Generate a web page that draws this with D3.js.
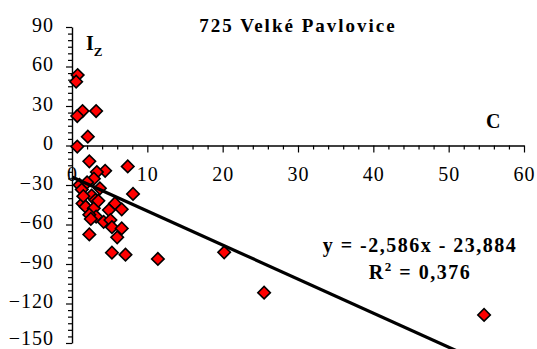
<!DOCTYPE html>
<html>
<head>
<meta charset="utf-8">
<script src="https://cdn.jsdelivr.net/npm/d3@7/dist/d3.min.js"></script>
<style>
  html, body { margin: 0; padding: 0; background: #fff; }
  svg { display: block; }
  text { font-family: "Liberation Serif", "Times New Roman", serif; fill: #000; }
</style>
</head>
<body>
<script>
// ---- data ----
const title = "725 Velké Pavlovice";
const cValues = [0.75, 0.55, 1.4, 0.7, 3.2, 2.1, 0.7, 2.3, 4.4, 7.4, 3.3, 2.9, 1.0, 1.3, 3.7, 2.6, 8.1, 1.4, 1.8, 3.1,
                 2.9, 5.7, 6.6, 4.9, 3.2, 4.2, 5.1, 5.3, 6.6, 2.3, 6.0, 5.3, 7.1, 11.4, 20.2, 25.5, 54.7,
                 1.5, 3.5, 2.3, 2.5, 2.0];
const izValues = [53.5, 48.5, 26.2, 22.4, 26.2, 6.7, -0.8, -12, -19.2, -15.9, -20.2, -25.2, -30, -33.5, -32.5, -38, -36.8, -44, -46.5, -41.4,
                  -47.7, -44, -48.5, -49, -54, -58, -56.6, -62, -63, -67.5, -69.7, -81.4, -82.9, -86.2, -81.1, -111.8, -128.7,
                  -38.5, -42, -52.5, -55.8, -28];
const xTicks = [0, 10, 20, 30, 40, 50, 60];
const yTicks = [-150, -120, -90, -60, -30, 0, 30, 60, 90];
const trendCoef = [-2.586, -23.884]; // slope, intercept
const equationText = "y = -2,586x - 23,884";
const r2Value = "0,376";

const points = cValues.map((c, i) => ({ c: c, iz: izValues[i] }));

// ---- layout ----
const W = 537, H = 349;
const FONT = '"Liberation Serif", "Times New Roman", serif';
const svg = d3.select("body").append("svg").attr("width", W).attr("height", H);

const x = d3.scaleLinear().domain([0, 60]).range([72, 524]);
const y = d3.scaleLinear().domain([-150, 90]).range([343, 27]);

const fontSize = 20;

// clip for plot area
svg.append("defs").append("clipPath").attr("id", "plotClip")
  .append("rect").attr("x", 60).attr("y", 20).attr("width", 470).attr("height", H - 20);

// Y axis minor ticks
const yMinor = d3.range(-150, 91, 5).filter(v => v % 30 !== 0);
svg.append("g").attr("transform", `translate(${x(0)},0)`)
  .call(d3.axisLeft(y).tickValues(yMinor).tickSize(4).tickFormat(""))
  .call(g => g.select(".domain").remove())
  .call(g => g.selectAll("line").attr("stroke", "#000").attr("stroke-width", 1.2));

// Y axis major
const yAxisG = svg.append("g").attr("transform", `translate(${x(0)},0)`)
  .attr("font-family", FONT)
  .call(d3.axisLeft(y).tickValues(yTicks).tickSize(6).tickSizeOuter(0).tickPadding(12));
yAxisG.select(".domain").attr("stroke", "#000").attr("stroke-width", 1.4);
yAxisG.selectAll("line").attr("stroke", "#000").attr("stroke-width", 1.2);
yAxisG.selectAll("text")
  .attr("dy", d => d === yTicks[0] ? "0.07em" : "0.22em")
  .style("font-family", FONT)
  .style("font-size", fontSize + "px")
  .style("letter-spacing", "1px")
  .attr("fill", "#000");

// X axis minor ticks
const xMinor = d3.range(0, 61, 2).filter(v => v % 10 !== 0);
svg.append("g").attr("transform", `translate(0,${y(0)})`)
  .call(d3.axisBottom(x).tickValues(xMinor).tickSize(4).tickFormat(""))
  .call(g => g.select(".domain").remove())
  .call(g => g.selectAll("line").attr("stroke", "#000").attr("stroke-width", 1.2));

// X axis major
const xAxisG = svg.append("g").attr("transform", `translate(0,${y(0)})`)
  .attr("font-family", FONT)
  .call(d3.axisBottom(x).tickValues(xTicks).tickSize(7).tickSizeOuter(0).tickPadding(14));
xAxisG.select(".domain").attr("stroke", "#000").attr("stroke-width", 1.4);
xAxisG.selectAll("line").attr("stroke", "#000").attr("stroke-width", 1.2);
xAxisG.selectAll("text")
  .style("font-family", FONT)
  .style("font-size", fontSize + "px")
  .style("letter-spacing", "1px")
  .attr("fill", "#000");

// markers
const diamond = d3.symbol().type(d3.symbolSquare).size(78);
svg.append("g").selectAll("path").data(points).join("path")
  .attr("d", diamond)
  .attr("transform", d => `translate(${x(d.c)},${y(d.iz)}) rotate(45)`)
  .attr("fill", "#ff0000")
  .attr("stroke", "#000")
  .attr("stroke-width", 1.6);

// trendline
const xExt = [0, 55];
const trendPts = xExt.map(v => ({ c: v, iz: trendCoef[0] * v + trendCoef[1] }));
svg.append("path")
  .datum(trendPts)
  .attr("clip-path", "url(#plotClip)")
  .attr("d", d3.line().x(d => x(d.c)).y(d => y(d.iz)))
  .attr("fill", "none")
  .attr("stroke", "#000")
  .attr("stroke-width", 3.2);

// title
svg.append("text")
  .attr("x", 298).attr("y", 31.5)
  .attr("text-anchor", "middle")
  .style("font-size", "19px").style("font-weight", "bold").style("letter-spacing", "2px")
  .text(title);

// axis name labels
const iz = svg.append("text").attr("x", 86).attr("y", 50)
  .style("font-size", "20px").style("font-weight", "bold");
iz.append("tspan").text("I");
iz.append("tspan").attr("dy", 6).style("font-size", "13px").text("Z");

svg.append("text").attr("x", 486).attr("y", 128)
  .style("font-size", "20px").style("font-weight", "bold")
  .text("C");

// equation
svg.append("text").attr("x", 420).attr("y", 252)
  .attr("text-anchor", "middle")
  .style("font-size", "20px").style("font-weight", "bold").style("letter-spacing", "1.5px")
  .text(equationText);

const r2 = svg.append("text").attr("x", 420).attr("y", 279)
  .attr("text-anchor", "middle")
  .style("font-size", "20px").style("font-weight", "bold").style("letter-spacing", "1.5px");
r2.append("tspan").text("R");
r2.append("tspan").attr("dy", -8).style("font-size", "13px").text("2");
r2.append("tspan").attr("dy", 8).text(" = " + r2Value);
</script>
</body>
</html>
